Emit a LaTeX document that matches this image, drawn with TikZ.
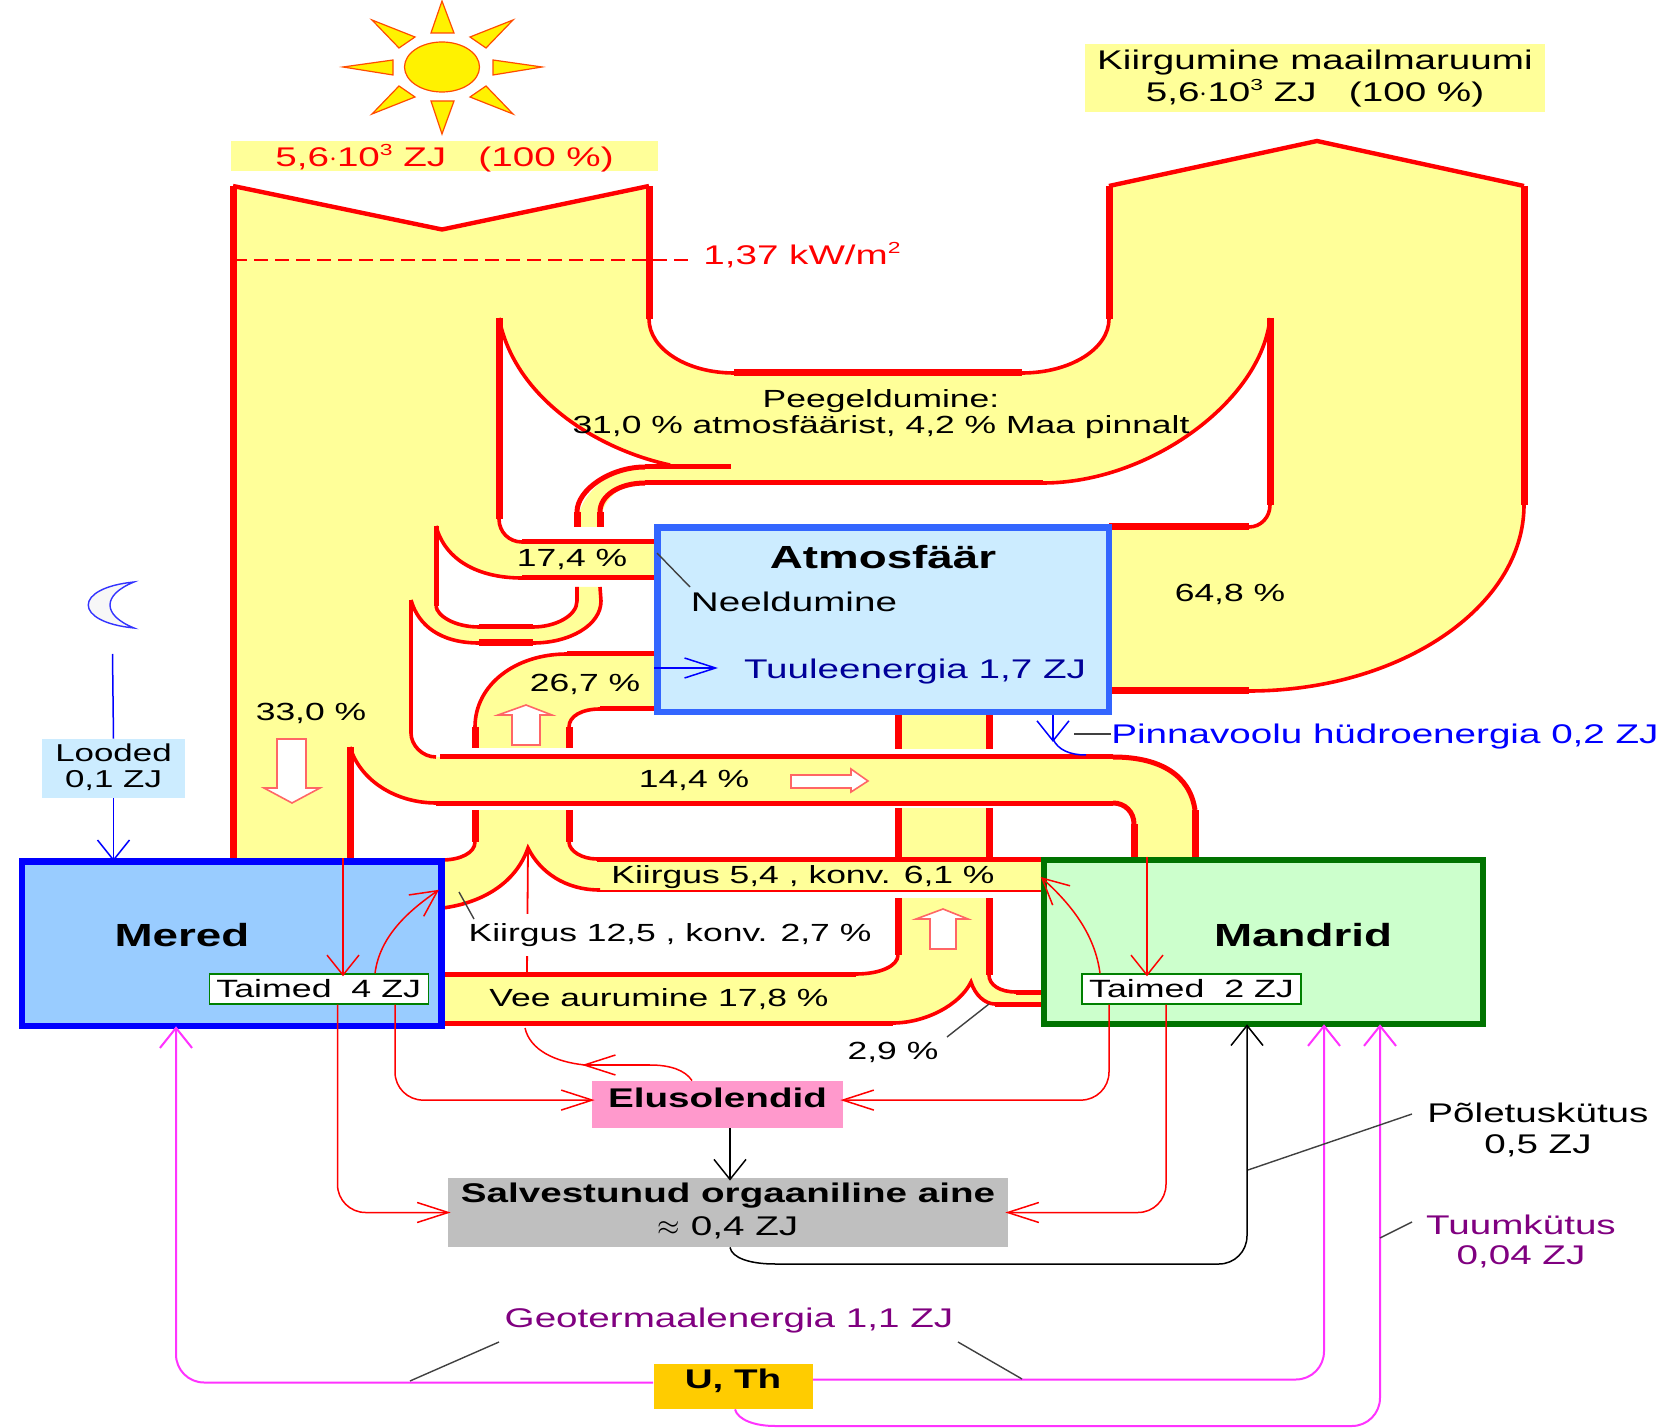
\documentclass[tikz,border=0pt]{standalone}
\usepackage{fontspec}
\setmainfont[FakeStretch=1.43]{Liberation Sans}
\usetikzlibrary{arrows.meta}
\definecolor{FlowYellow}{RGB}{255,255,153}
\definecolor{SeaBlue}{RGB}{153,204,255}
\definecolor{AirBlue}{RGB}{204,236,255}
\definecolor{AirBorder}{RGB}{51,102,255}
\definecolor{LandGreen}{RGB}{204,255,204}
\definecolor{LifePink}{RGB}{255,153,204}
\definecolor{OreGold}{RGB}{255,204,0}
\definecolor{GeoPurple}{RGB}{128,0,128}
\definecolor{FuelPink}{RGB}{255,51,255}
\newcommand{\supnum}[1]{\smash{\raisebox{5.5pt}{\fontsize{8}{8}\selectfont #1}}}

\begin{document}
\begin{tikzpicture}[
    x=0.5pt, y=-0.5pt,
    % Styles of the flows
    flowfill/.style={fill=FlowYellow, draw=none},
    flowthick/.style={draw=red, line width=3.5pt},
    flowmid/.style={draw=red, line width=2.5pt},
    flowthin/.style={draw=red, line width=1.8pt},
    sunray/.style={fill=yellow, draw=red!70!yellow, line width=0.6pt},
    blockarrow/.style={fill=white, draw=red!60, line width=0.8pt},
    % Styles of the boxes
    bigbox/.style={draw, line width=3.3pt, inner sep=0pt},
    plantbox/.style={draw=green!50!black, fill=white, line width=0.7pt, inner sep=0pt, minimum width=109.5pt, minimum height=15pt, font=\fontsize{12.5}{14}\selectfont},
    flatbox/.style={inner sep=0pt, align=center},
    % Styles of the connectors
    vhead/.style={-{Straight Barb[length=10pt,width=16pt]}, shorten >=-1.5pt},
    hhead/.style={-{Straight Barb[length=15.5pt,width=10pt]}, shorten >=-1.5pt},
    dhead/.style={-{Straight Barb[length=13pt,width=13pt]}, shorten >=-1.5pt},
    redline/.style={draw=red, line width=0.75pt},
    redarrow/.style={redline, rounded corners=14pt},
    blackarrow/.style={draw=black, line width=0.75pt, rounded corners=14pt},
    bluearrow/.style={draw=blue, line width=0.75pt},
    fuelarrow/.style={draw=FuelPink, line width=1pt, rounded corners=14pt},
    leader/.style={draw=black!75, line width=0.7pt},
    % Styles of the labels
    mainlabel/.style={inner sep=0pt, align=center, font=\fontsize{13.5}{16}\selectfont},
    smalllabel/.style={inner sep=0pt, align=center, font=\fontsize{12.4}{13}\selectfont},
    boldlabel/.style={inner sep=0pt, align=center, font=\fontsize{16}{18}\selectfont\bfseries}
  ]
  \useasboundingbox (0,0) rectangle (1678,1428);

  % --- SUN ---
  \draw[sunray] (442,1) -- (454,33) -- (431,33) -- cycle;
  \draw[sunray] (442,134) -- (454,101) -- (431,101) -- cycle;
  \draw[sunray] (343,67) -- (393,60) -- (393,75) -- cycle;
  \draw[sunray] (542,67) -- (493,60) -- (493,75) -- cycle;
  \draw[sunray] (372,20) -- (415,37) -- (399,48) -- cycle;
  \draw[sunray] (513,20) -- (470,37) -- (486,48) -- cycle;
  \draw[sunray] (372,114) -- (399,86) -- (415,97) -- cycle;
  \draw[sunray] (513,114) -- (486,86) -- (470,97) -- cycle;
  \draw[sunray] (442,67) ellipse (37.5 and 25);

  % --- MOON ---
  \draw[draw=blue!80, fill=black!3, line width=0.7pt] (134,582) .. controls (73,588) and (73,622) .. (134,628) .. controls (102,615) and (102,595) .. cycle;

  % --- YELLOW FLOWS ---
  \fill[flowfill] (233,186) -- (442,229.5) -- (649,186) -- (649,319)
    .. controls (649,349) and (687,373) .. (734,373) -- (1022,373)
    .. controls (1070,373) and (1109,349) .. (1109,319) -- (1109,186)
    -- (1317,141) -- (1524,186) -- (1524,505)
    .. controls (1524,607) and (1400,691) .. (1249,691) -- (1109,691) -- (1109,527) -- (1249,527)
    .. controls (1261,527) and (1270,517) .. (1270,505) -- (1270,318)
    .. controls (1262,400) and (1150,483) .. (1043,483) -- (645,483)
    .. controls (620,483) and (600,500) .. (600,527) -- (577,527)
    .. controls (577,495) and (610,467) .. (645,467) -- (670,465)
    .. controls (600,450) and (515,400) .. (499,318) -- (499,519)
    .. controls (499,532) and (509,542) .. (522,542) -- (658,542) -- (658,578) -- (522,578)
    .. controls (478,578) and (445,560) .. (436,526) -- (436,606)
    .. controls (437,616) and (455,627) .. (479,627) -- (533,627)
    .. controls (555,627) and (577,616) .. (577,601) -- (577,587) -- (600,587) -- (601,601)
    .. controls (601,625) and (570,643) .. (533,643) -- (479,643)
    .. controls (440,643) and (418,625) .. (411,600) -- (411,733)
    .. controls (411,745) and (422,757) .. (436,757) -- (1113,756)
    .. controls (1160,756) and (1190,775) .. (1195,810) -- (1195,860) -- (1134,860) -- (1134,824)
    .. controls (1134,812) and (1125,803) .. (1113,803) -- (436.5,803)
    .. controls (395,803) and (360,780) .. (350,747) -- (350,860) -- (233,860) -- cycle;
  \fill[flowfill] (475,748) -- (475,727) .. controls (475,685) and (515,654) .. (567,654) -- (658,654) -- (658,709) -- (600,709) .. controls (582,709) and (569,716) .. (569,727) -- (569,748) -- cycle;
  \fill[flowfill] (898,712) rectangle (989,749);
  \fill[flowfill] (898,808) rectangle (989,860);
  \fill[flowfill] (475,810) -- (475,842) .. controls (475,853) and (460,860) .. (442,860) -- (443,908)
    .. controls (480,903) and (515,885) .. (528,848) .. controls (540,872) and (565,890) .. (600,890)
    -- (1046,891) -- (1046,859) -- (597,859) .. controls (582,859) and (569,851) .. (569,842) -- (569,810) -- cycle;
  \fill[flowfill] (898,898) -- (898,955) .. controls (898,966) and (880,974) .. (856,974) -- (444,974) -- (444,1023) -- (893,1023)
    .. controls (925,1023) and (960,1005) .. (971,982) .. controls (975,995) and (985,1004) .. (995,1004)
    -- (1046,1004) -- (1046,992) -- (1016,992) .. controls (1000,992) and (989,985) .. (989,975) -- (989,898) -- cycle;

  % --- OUTLINES OF THE FLOWS ---
  % Straight parts
  \draw[flowthick] (233,186) -- (233,860);
  \draw[flowthick] (649,186) -- (649,319);
  \draw[flowthick] (734,373) -- (1022,373);
  \draw[flowthick] (1109,319) -- (1109,186);
  \draw[flowthick] (1524,186) -- (1524,505);
  \draw[flowthick] (1249,691) -- (1109,691);
  \draw[flowthick] (1270,318) -- (1270,505);
  \draw[flowthick] (1249,527) -- (1109,527);
  \draw[flowmid] (1043,483) -- (645,483);
  \draw[flowmid] (645,467) -- (731,467);
  \draw[flowthick] (499,318) -- (499,519);
  \draw[flowmid] (522,542) -- (658,542);
  \draw[flowmid] (522,578) -- (658,578);
  \draw[flowthick] (577,512) -- (577,527);
  \draw[flowthick] (600,512) -- (600,527);
  \draw[flowmid] (436,526) -- (436,606);
  \draw[flowmid] (479,627) -- (533,627);
  \draw[flowthick] (479,643) -- (533,643);
  \draw[flowthin] (411,600) -- (411,733);
  \draw[flowmid] (567,654) -- (658,654);
  \draw[flowmid] (600,709) -- (658,709);
  \draw[flowthick] (475,727) -- (475,748);
  \draw[flowthick] (569,727) -- (569,748);
  \draw[flowthick] (898,712) -- (898,749);
  \draw[flowthick] (989,712) -- (989,749);
  \draw[flowmid] (440,757) -- (1113,757);
  \draw[flowmid] (436,803) -- (1113,803);
  \draw[flowthick] (350,747) -- (350,860);
  \draw[flowthick] (1134,824) -- (1134,860);
  \draw[flowthick] (1195,810) -- (1195,860);
  \draw[flowthick] (475,810) -- (475,842);
  \draw[flowthick] (569,810) -- (569,842);
  \draw[flowthick] (898,808) -- (898,858);
  \draw[flowthick] (989,808) -- (989,858);
  \draw[flowmid] (597,859) -- (1046,859);
  \draw[flowthick] (898,898) -- (898,955);
  \draw[flowthick] (989,898) -- (989,975);
  \draw[flowmid] (856,974) -- (444,974);
  \draw[flowmid] (444,1023) -- (893,1023);
  \draw[flowmid] (1016,992) -- (1046,992);
  \draw[flowmid] (995,1004) -- (1046,1004);
  % Thin and curved parts
  \draw[draw=red, line width=2.2pt] (233,186) -- (442,229.5) -- (649,186);
  \draw[draw=red, line width=2.2pt] (1109,186) -- (1317,141) -- (1524,186);
  \draw[flowthin] (649,319) .. controls (649,349) and (687,373) .. (734,373);
  \draw[flowthin] (1022,373) .. controls (1070,373) and (1109,349) .. (1109,319);
  \draw[flowthin] (1524,505) .. controls (1524,607) and (1400,691) .. (1249,691);
  \draw[flowthin] (1249,527) .. controls (1261,527) and (1270,517) .. (1270,505);
  \draw[flowthin] (1270,318) .. controls (1262,400) and (1150,483) .. (1043,483);
  \draw[flowmid] (645,483) .. controls (620,483) and (600,495) .. (600,512);
  \draw[flowmid] (577,512) .. controls (577,490) and (610,467) .. (645,467);
  \draw[flowthin] (670,465) .. controls (600,450) and (515,400) .. (499,318);
  \draw[flowthin] (499,519) .. controls (499,532) and (509,542) .. (522,542);
  \draw[flowthin] (522,578) .. controls (478,578) and (445,560) .. (436,526);
  \draw[flowthin] (436,606) .. controls (437,616) and (455,627) .. (479,627);
  \draw[flowthin] (533,627) .. controls (555,627) and (577,616) .. (577,601) -- (577,587);
  \draw[flowthin] (600,587) -- (601,601) .. controls (601,625) and (570,643) .. (533,643);
  \draw[flowthin] (479,643) .. controls (440,643) and (418,625) .. (411,600);
  \draw[flowthin] (411,733) .. controls (411,745) and (422,757) .. (436,757);
  \draw[flowthin] (475,727) .. controls (475,685) and (515,654) .. (567,654);
  \draw[flowthin] (600,709) .. controls (582,709) and (569,716) .. (569,727);
  \draw[flowmid] (1113,757) .. controls (1160,757) and (1190,775) .. (1195,810);
  \draw[flowmid] (1134,824) .. controls (1134,812) and (1125,803) .. (1113,803);
  \draw[flowthin] (436.5,803) .. controls (395,803) and (360,780) .. (350,747);
  \draw[flowthin] (475,842) .. controls (475,853) and (460,860) .. (442,860);
  \draw[flowthin] (569,842) .. controls (569,851) and (582,859) .. (597,859);
  \draw[flowthin] (443,908) .. controls (480,903) and (515,885) .. (528,848) .. controls (540,872) and (565,890) .. (600,890);
  \draw[draw=red, line width=0.9pt] (600,891) -- (1046,891);
  \draw[flowthin] (898,955) .. controls (898,966) and (880,974) .. (856,974);
  \draw[flowthin] (989,975) .. controls (989,985) and (1000,992) .. (1016,992);
  \draw[flowthin] (893,1023) .. controls (925,1023) and (960,1005) .. (971,982) .. controls (975,995) and (985,1004) .. (995,1004);
  \draw[draw=red, line width=0.8pt, dash pattern=on 7pt off 3.5pt] (233,260) -- (691,260);

  % --- BLOCK ARROWS ---
  \draw[blockarrow] (277,739) -- (306,739) -- (306,788) -- (320,788) -- (292,803) -- (264,788) -- (277,788) -- cycle;
  \draw[blockarrow] (512,745) -- (540,745) -- (540,715) -- (552,715) -- (526,705) -- (498,715) -- (512,715) -- cycle;
  \draw[blockarrow] (930,949) -- (956,949) -- (956,919) -- (968,919) -- (943,909) -- (916,919) -- (930,919) -- cycle;
  \draw[blockarrow] (791,775) -- (851,775) -- (851,769) -- (868,781) -- (851,792) -- (851,788) -- (791,788) -- cycle;

  % --- BOXES ---
  \node[bigbox, draw=blue, fill=SeaBlue, minimum width=209.75pt, minimum height=82.25pt] (mered) at (231.75,943.75) {};
  \node[bigbox, draw=AirBorder, fill=AirBlue, minimum width=225.75pt, minimum height=92.25pt] (atmos) at (883.25,619.75) {};
  \node[bigbox, draw=green!45!black, fill=LandGreen, minimum width=219.5pt, minimum height=82pt] (mandrid) at (1263.5,942) {};
  \node[plantbox] (taimedM) at (318.75,989) {\raisebox{1pt}{Taimed\ \ 4 ZJ}};
  \node[plantbox] (taimedL) at (1191.5,989) {\raisebox{1pt}{Taimed\ \ 2 ZJ}};
  \node[flatbox, fill=LifePink, minimum width=125.5pt, minimum height=23.5pt, font=\fontsize{13.5}{16}\selectfont\bfseries] (elus) at (717.5,1104.5) {\raisebox{6.5pt}{Elusolendid}};
  \node[flatbox, fill=black!25, minimum width=280pt, minimum height=34.5pt, font=\fontsize{13.5}{16.5}\selectfont] (salv) at (728,1212.5) {\raisebox{3pt}{\begin{tabular}{@{}c@{}}\textbf{Salvestunud orgaaniline aine}\\$\approx$ 0,4 ZJ\end{tabular}}};
  \node[flatbox, fill=OreGold, minimum width=79.5pt, minimum height=22.5pt, font=\fontsize{13.5}{16}\selectfont\bfseries] (uth) at (733,1386.5) {\raisebox{8pt}{U, Th}};
  \node[flatbox, fill=AirBlue, minimum width=71.5pt, minimum height=29.5pt, font=\fontsize{12.2}{14}\selectfont] (looded) at (113.5,768.5) {\raisebox{0.5pt}{\begin{tabular}{@{}c@{}}Looded\\[-1pt]0,1 ZJ\end{tabular}}};
  \node[flatbox, fill=FlowYellow, minimum width=213.5pt, minimum height=15pt, text=red, text height=11pt, text depth=0pt, font=\fontsize{13.5}{16}\selectfont] (sunlabel) at (444.5,156) {5,6$\cdot$10\supnum{3} ZJ\ \ \ (100 \%)};
  \node[flatbox, fill=FlowYellow, minimum width=230.25pt, minimum height=34pt, font=\fontsize{13.5}{16}\selectfont] (spacelabel) at (1315,78.5) {Kiirgumine maailmaruumi\\5,6$\cdot$10\supnum{3} ZJ\ \ \ (100 \%)};

  % --- CONNECTORS ---
  % Red arrows of the plants
  \draw[redarrow, vhead] (343,0 |- mered.north) -- (343,0 |- taimedM.north);
  \coordinate (merededge) at (436.5,891.5);
  \draw[redarrow, dhead] (375,0 |- taimedM.north) .. controls (380,935) and (410,910) .. (merededge);
  \draw[redarrow, hhead] (337.5,0 |- taimedM.south) |- (salv.west);
  \draw[redarrow, hhead] (395,0 |- taimedM.south) |- ([yshift=2.2pt]elus.west);
  \draw[redarrow, vhead] (1147,0 |- mandrid.north) -- (1147,0 |- taimedL.north);
  \coordinate (landedge) at (1043,879);
  \draw[redarrow, dhead] (1100,0 |- taimedL.north) .. controls (1095,935) and (1072,905) .. (landedge);
  \draw[redarrow, hhead] (1109,0 |- taimedL.south) |- ([yshift=2.2pt]elus.east);
  \draw[redarrow, hhead] (1166,0 |- taimedL.south) |- (salv.east);
  \coordinate (vapour) at (525,1028);
  \coordinate (elusback) at (585,1065);
  \coordinate (elusbend) at (650,1065);
  \draw[redline] (692,0 |- elus.north) .. controls (685,1070) and (670,1065) .. (elusbend);
  \draw[redline, hhead] (elusbend) -- (elusback);
  \draw[redline] (vapour) .. controls (530,1050) and (555,1062) .. (elusback);
  \coordinate (risetop) at (528,848);
  \coordinate (risefoot) at (527,973);
  \draw[draw=red, line width=0.9pt] (risefoot) -- (risetop);
  % Black arrows
  \draw[blackarrow, vhead] (730,0 |- elus.south) -- (730,0 |- salv.north);
  \coordinate (storebend) at (775,1264);
  \draw[draw=black, line width=0.75pt] (730,0 |- salv.south) .. controls (732,1258) and (750,1264) .. (storebend);
  \draw[blackarrow, vhead] (storebend) -- (1247,1264) -- (1247,0 |- mandrid.south);
  % Blue arrows
  \coordinate (moonfoot) at (112.5,654);
  \draw[draw=blue, line width=0.75pt] (moonfoot) -- (looded.north);
  \draw[bluearrow, vhead] (looded.south) -- (looded.south |- mered.north);
  \draw[bluearrow, hhead] (atmos.west |- 0,668) -- (715,668);
  \coordinate (hydrotip) at (1053,739);
  \coordinate (hydroflow) at (1086,755);
  \draw[bluearrow, vhead] (1053,0 |- atmos.south) -- (hydrotip);
  \draw[draw=blue, line width=0.75pt] (hydrotip) .. controls (1058,750) and (1070,755) .. (hydroflow);
  % Magenta arrows
  \draw[fuelarrow, vhead] ([yshift=2pt]uth.west) -| (176,0 |- mered.south);
  \draw[fuelarrow, vhead] ([yshift=3.5pt]uth.east) -| (1324,0 |- mandrid.south);
  \coordinate (orebend) at (775,1426);
  \draw[draw=FuelPink, line width=1pt] (735,0 |- uth.south) .. controls (738,1420) and (755,1426) .. (orebend);
  \draw[fuelarrow, vhead] (orebend) -- (1380,1426) -- (1380,0 |- mandrid.south);

  % --- LABELS ---
  \node[mainlabel, text=red] (solar) at (802,256) {1,37 kW/m\supnum{2}};
  \node[smalllabel] (peegel) at (881,414) {Peegeldumine:\\31,0 \% atmosfäärist, 4,2 \% Maa pinnalt};
  \node[smalllabel] (p174) at (572,559) {17,4 \%};
  \node[smalllabel] (p267) at (585,684) {26,7 \%};
  \node[smalllabel] (p330) at (311,713) {33,0 \%};
  \node[smalllabel] (p648) at (1230,594) {64,8 \%};
  \node[smalllabel] (p144) at (694,780) {14,4 \%};
  \node[smalllabel] (kiirgus54) at (803,877) {Kiirgus 5,4 , konv. 6,1 \%};
  \node[smalllabel, fill=white, inner sep=2pt, minimum height=21pt] (kiirgus125) at (670,935) {Kiirgus 12,5 , konv. 2,7 \%};
  \node[smalllabel] (vee) at (659,999) {Vee aurumine 17,8 \%};
  \node[smalllabel] (p29) at (893,1052) {2,9 \%};
  \node[boldlabel] (atmoslabel) at (883,557) {Atmosfäär};
  \node[mainlabel] (neel) at (794,602) {Neeldumine};
  \node[mainlabel, text=blue!60!black] (tuul) at (915,672) {Tuuleenergia 1,7 ZJ};
  \node[boldlabel] (meredlabel) at (182,935) {Mered};
  \node[boldlabel] (mandridlabel) at (1303,935) {Mandrid};
  \node[mainlabel, text=blue] (hydro) at (1385,737) {Pinnavoolu hüdroenergia 0,2 ZJ};
  \node[mainlabel, text=GeoPurple] (geo) at (729,1321) {Geotermaalenergia 1,1 ZJ};
  \node[mainlabel, font=\fontsize{13.5}{15.5}\selectfont] (poletus) at (1538,1130) {Põletuskütus\\0,5 ZJ};
  \node[mainlabel, text=GeoPurple, font=\fontsize{13.5}{15}\selectfont] (tuum) at (1521,1241) {Tuumkütus\\0,04 ZJ};

  % --- LEADER LINES ---
  \coordinate (l1a) at (657,553); \coordinate (l1b) at (690,587);
  \draw[leader] (l1a) -- (l1b);
  \coordinate (l2a) at (459,892); \coordinate (l2b) at (474,919);
  \draw[leader] (l2a) -- (l2b);
  \coordinate (l3a) at (947,1037); \coordinate (l3b) at (989,1004);
  \draw[leader] (l3a) -- (l3b);
  \coordinate (l4a) at (1074,734);
  \draw[leader] (l4a) -- (l4a -| hydro.west);
  \coordinate (l5a) at (1248,1170); \coordinate (l5b) at (1412,1114);
  \draw[leader] (l5a) -- (l5b);
  \coordinate (l6a) at (1380,1238); \coordinate (l6b) at (1412,1222);
  \draw[leader] (l6a) -- (l6b);
  \coordinate (l7a) at (410,1381); \coordinate (l7b) at (499,1342);
  \draw[leader] (l7a) -- (l7b);
  \coordinate (l8a) at (958,1342); \coordinate (l8b) at (1022,1379);
  \draw[leader] (l8a) -- (l8b);
\end{tikzpicture}
\end{document}
